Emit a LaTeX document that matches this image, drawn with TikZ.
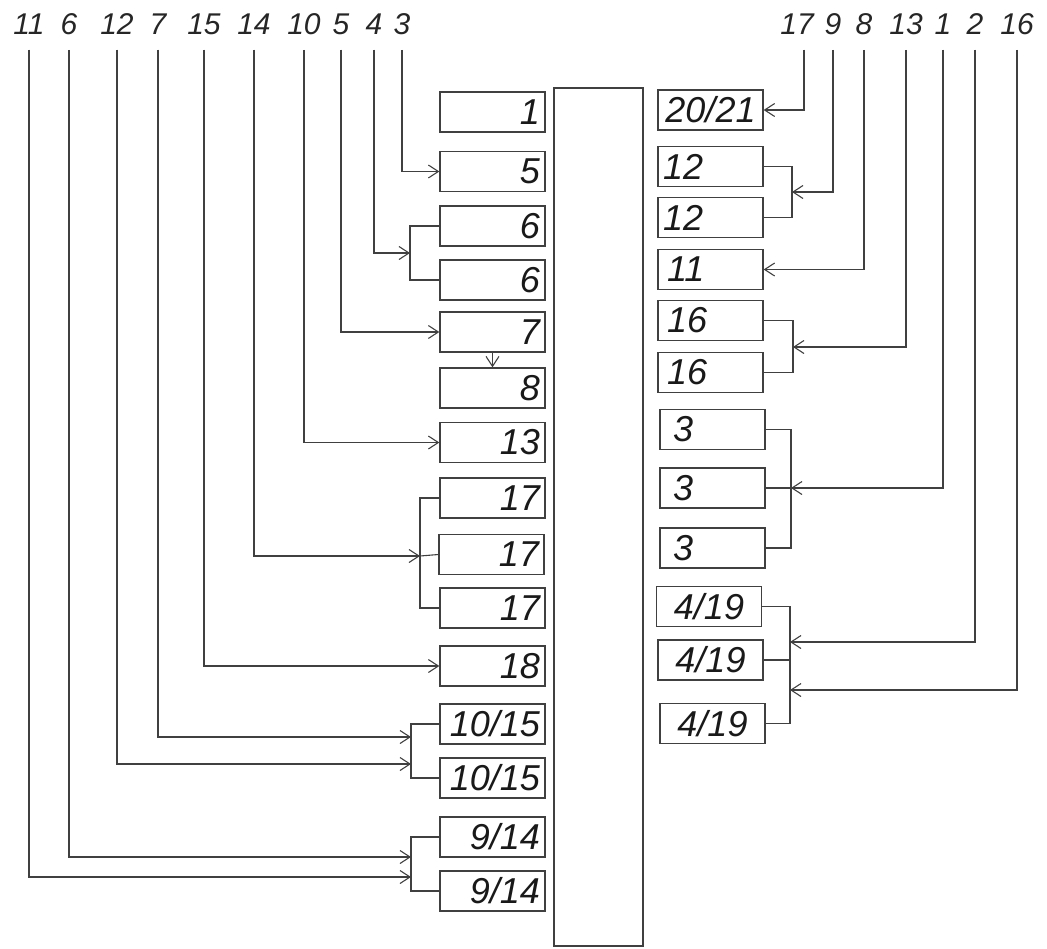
\documentclass[tikz,border=0pt]{standalone}
\usepackage{fontspec}
\setmainfont{Liberation Sans}
\usetikzlibrary{arrows.meta}
\begin{document}
\begin{tikzpicture}[x=1pt,y=-1pt,
  lbl/.style={font=\fontsize{30}{30}\selectfont\itshape, inner sep=0pt, text=black!85},
  lbox/.style={draw=black!75, line width=1.3pt, minimum height=40pt, text width=95pt, inner xsep=5pt, inner ysep=0pt, align=right, font=\fontsize{36}{36}\selectfont\itshape, text=black!90},
  rbox/.style={lbox, align=left},
  rboxc/.style={lbox, align=center},
  lead/.style={draw=black!75, line width=1.1pt, shorten <=15pt, -{Straight Barb[length=10pt,width=13pt]}},
  arr/.style={draw=black!75, line width=1.1pt, -{Straight Barb[length=10pt,width=13pt]}},
  brk/.style={draw=black!75, line width=1.1pt}]
\useasboundingbox (0,0) rectangle (1047,948);

% central bus
\node[draw=black!75, line width=1.3pt, minimum width=89pt, minimum height=858pt, inner sep=0pt] (bus) at (598.5,517) {};

% left boxes
\node[lbox] (b1) at (492.5,112) {1};
\node[lbox] (b5) at (492.5,171.5) {5};
\node[lbox] (b6a) at (492.5,226) {6};
\node[lbox] (b6b) at (492.5,280) {6};
\node[lbox] (b7) at (492.5,332) {7};
\node[lbox] (b8) at (492.5,388) {8};
\node[lbox] (b13) at (492.5,442.5) {13};
\node[lbox] (b17a) at (492.5,498) {17};
\node[lbox] (b17b) at (491.5,554.5) {17};
\node[lbox] (b17c) at (492.5,608) {17};
\node[lbox] (b18) at (492.5,666) {18};
\node[lbox] (b1015a) at (492.5,724) {10/15};
\node[lbox] (b1015b) at (492.5,778) {10/15};
\node[lbox] (b914a) at (492.5,837) {9/14};
\node[lbox] (b914b) at (492.5,891) {9/14};

% right boxes
\node[rboxc] (c20) at (710.5,110) {20/21};
\node[rbox] (c12a) at (710.5,166.5) {12};
\node[rbox] (c12b) at (710.5,217.5) {12};
\node[rbox] (c11) at (710.5,269.5) {\hspace{4pt}11};
\node[rbox] (c16a) at (710.5,320.5) {\hspace{4pt}16};
\node[rbox] (c16b) at (710.5,372.5) {\hspace{4pt}16};
\node[rbox] (c3a) at (712.5,429.5) {\hspace{8pt}3};
\node[rbox] (c3b) at (712.5,488) {\hspace{8pt}3};
\node[rbox] (c3c) at (712.5,548) {\hspace{8pt}3};
\node[rboxc] (c419a) at (709,606.5) {4/19};
\node[rboxc] (c419b) at (710.5,660) {4/19};
\node[rboxc] (c419c) at (712.5,723.5) {4/19};

% top labels left
\node[lbl] (l11) at (29,24) {11};
\node[lbl] (l6) at (69,24) {6};
\node[lbl] (l12) at (117,24) {12};
\node[lbl] (l7) at (158,24) {7};
\node[lbl] (l15) at (204,24) {15};
\node[lbl] (l14) at (254,24) {14};
\node[lbl] (l10) at (304,24) {10};
\node[lbl] (l5) at (341,24) {5};
\node[lbl] (l4) at (374,24) {4};
\node[lbl] (l3) at (402,24) {3};

% top labels right
\node[lbl] (r17) at (797,24) {17};
\node[lbl] (r9) at (833,24) {9};
\node[lbl] (r8) at (864,24) {8};
\node[lbl] (r13) at (906,24) {13};
\node[lbl] (r1) at (943,24) {1};
\node[lbl] (r2) at (975,24) {2};
\node[lbl] (r16) at (1017,24) {16};

% bracket junctions
\coordinate (k4) at (410,253);
\coordinate (k14) at (420,556);
\coordinate (k7) at (411,737);
\coordinate (k12) at (411,764);
\coordinate (k6) at (411,857);
\coordinate (k11) at (411,877);
\coordinate (k9) at (792,192);
\coordinate (k13) at (793,347);
\coordinate (k1) at (791,488);
\coordinate (k2) at (790,642);
\coordinate (k16) at (790,690);

% left brackets
\draw[brk] (b6a.west) -| (k4) |- (b6b.west);
\draw[brk] (b17a.west) -| (k14) |- (b17c.west);
\draw[brk] (b17b.west) -- (k14);
\draw[brk] (b1015a.west) -| (k7) |- (b1015b.west);
\draw[brk] (b914a.west) -| (k6) |- (b914b.west);

% right brackets
\draw[brk] (c12a.east) -| (k9) |- (c12b.east);
\draw[brk] (c16a.east) -| (k13) |- (c16b.east);
\draw[brk] (c3a.east) -| (k1) |- (c3c.east);
\draw[brk] (c3b.east) -- (k1);
\draw[brk] (c419a.east) -| (k2) |- (c419c.east);
\draw[brk] (c419b.east) -- (c419b.east -| k2);

% left leads
\draw[lead] (l3.south) |- (b5.west);
\draw[lead] (l4.south) |- (k4);
\draw[lead] (l5.south) |- (b7.west);
\draw[arr] (b7.south) -- (b8.north);
\draw[lead] (l10.south) |- (b13.west);
\draw[lead] (l14.south) |- (k14);
\draw[lead] (l15.south) |- (b18.west);
\draw[lead] (l7.south) |- (k7);
\draw[lead] (l12.south) |- (k12);
\draw[lead] (l6.south) |- (k6);
\draw[lead] (l11.south) |- (k11);

% right leads
\draw[lead] ([xshift=7pt]r17.south) |- (c20.east);
\draw[lead] (r9.south) |- (k9);
\draw[lead] (r8.south) |- (c11.east);
\draw[lead] (r13.south) |- (k13);
\draw[lead] (r1.south) |- (k1);
\draw[lead] (r2.south) |- (k2);
\draw[lead] (r16.south) |- (k16);
\end{tikzpicture}
\end{document}
